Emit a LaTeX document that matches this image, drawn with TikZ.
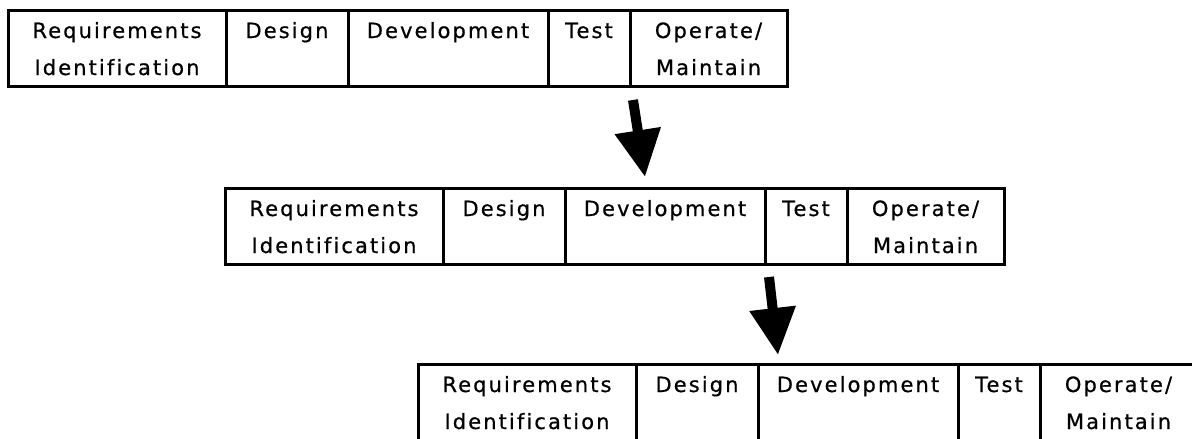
\documentclass[tikz,border=0pt]{standalone}
\usepackage{fontspec}
\newfontfamily\phasefont{DejaVu Sans}[LetterSpace=10,FakeBold=0.6,Ligatures=NoCommon]
\usetikzlibrary{positioning,arrows.meta}

\tikzset{
  phase/.style={draw, line width=3pt, outer sep=0pt, inner sep=0pt,
    text width=#1, align=center, text height=28pt, text depth=48pt,
    font=\phasefont\fontsize{21}{37}\selectfont},
  bigarrow/.style={line width=10pt, -{Triangle[width=44pt,length=47pt]}}
}

\begin{document}
\begin{tikzpicture}[x=1pt,y=-1pt]
\useasboundingbox (0,0) rectangle (1192,439);
% first row
\node[phase=218pt, anchor=north west] (req1) at (8,10) {Requirements\\Identification};
\node[phase=122pt, right=0pt of req1] (des1) {Design};
\node[phase=200pt, right=0pt of des1] (dev1) {Development};
\node[phase=82pt, right=0pt of dev1] (tst1) {Test};
\node[phase=157pt, right=0pt of tst1] (ops1) {Operate/\\Maintain};
% second row
\node[phase=218pt, anchor=north west] (req2) at (225,188) {Requirements\\Identification};
\node[phase=122pt, right=0pt of req2] (des2) {Design};
\node[phase=200pt, right=0pt of des2] (dev2) {Development};
\node[phase=82pt, right=0pt of dev2] (tst2) {Test};
\node[phase=157pt, right=0pt of tst2] (ops2) {Operate/\\Maintain};
% third row
\node[phase=218pt, anchor=north west] (req3) at (418,364) {Requirements\\Identification};
\node[phase=122pt, right=0pt of req3] (des3) {Design};
\node[phase=200pt, right=0pt of des3] (dev3) {Development};
\node[phase=82pt, right=0pt of dev3] (tst3) {Test};
\node[phase=157pt, right=0pt of tst3] (ops3) {Operate/\\Maintain};
\draw[bigarrow] ([shift={(3,14)}]ops1.south west) -- ([shift={(-20,-11)}]dev2.north);
\draw[bigarrow] ([shift={(4,13)}]dev2.south east) -- ([shift={(20,-9)}]dev3.north west);
\end{tikzpicture}
\end{document}
